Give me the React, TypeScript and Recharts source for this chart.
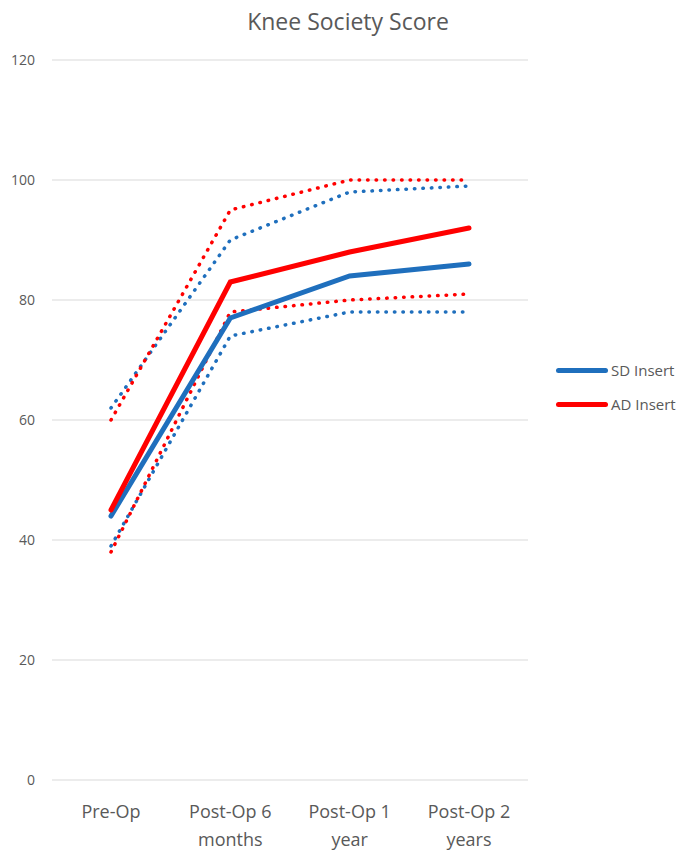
import React from 'react';
import { ComposedChart, Line, XAxis, YAxis, CartesianGrid, Legend } from 'recharts';

const categories = ['Pre-Op', 'Post-Op 6 months', 'Post-Op 1 year', 'Post-Op 2 years'];
const sdMean = [44, 77, 84, 86];
const adMean = [45, 83, 88, 92];
const sdUpper = [62, 90, 98, 99];
const sdLower = [39, 74, 78, 78];
const adUpper = [60, 95, 100, 100];
const adLower = [38, 78, 80, 81];
const yTicks = [0, 20, 40, 60, 80, 100, 120];

const BLUE = '#1f6fbd';
const RED = '#ff0000';
const GREY = '#595959';
const FONT = '"Open Sans", sans-serif';

const data = categories.map((name, i) => ({
  name,
  sd: sdMean[i],
  ad: adMean[i],
  sdHi: sdUpper[i],
  sdLo: sdLower[i],
  adHi: adUpper[i],
  adLo: adLower[i],
}));

// split long category names over two lines like the original
const CategoryTick = (props: any) => {
  const { x, y, payload } = props;
  const words = String(payload.value).split(' ');
  const lines = words.length > 2 ? [words.slice(0, 2).join(' '), words.slice(2).join(' ')] : [words.join(' ')];
  return (
    <text x={x} y={y} textAnchor="middle" fill={GREY} fontSize={18} fontFamily={FONT}>
      {lines.map((l, i) => (
        <tspan key={i} x={x} dy={i === 0 ? 30 : 28}>{l}</tspan>
      ))}
    </text>
  );
};

const legendItems = [
  { label: 'SD Insert', color: BLUE },
  { label: 'AD Insert', color: RED },
];

const LegendBox = () => (
  <div style={{ fontFamily: FONT, fontSize: 15, color: GREY }}>
    {legendItems.map((it) => (
      <div key={it.label} style={{ display: 'flex', alignItems: 'center', height: 34 }}>
        <div style={{ width: 52, height: 5, borderRadius: 3, background: it.color, marginRight: 3 }} />
        <span>{it.label}</span>
      </div>
    ))}
  </div>
);

const dotted = { strokeWidth: 3.5, strokeDasharray: '0.5 8', strokeLinecap: 'round' as const };

export default function App() {
  return (
    <div style={{ position: 'absolute', left: 0, top: 0, width: 684, height: 857, background: '#fff' }}>
      <div
        style={{
          position: 'absolute',
          top: 5,
          left: 0,
          width: 696,
          textAlign: 'center',
          fontFamily: FONT,
          fontSize: 23,
          color: GREY,
        }}
      >
        Knee Society Score
      </div>
      <ComposedChart width={684} height={857} data={data} margin={{ top: 60, right: 156, bottom: 17, left: 0 }}>
        <CartesianGrid vertical={false} stroke="#d9d9d9" />
        <XAxis
          dataKey="name"
          axisLine={false}
          tickLine={false}
          height={60}
          interval={0}
          padding={{ left: 59, right: 59 }}
          tick={<CategoryTick />}
        />
        <YAxis
          domain={[0, 120]}
          ticks={yTicks}
          axisLine={false}
          tickLine={false}
          width={52}
          tickMargin={11}
          tick={{ fontSize: 14, fill: GREY, fontFamily: FONT }}
        />
        <Legend
          layout="vertical"
          align="center"
          verticalAlign="middle"
          content={<LegendBox />}
          wrapperStyle={{ left: 556, top: 353, width: 128 }}
        />
        <Line dataKey="sdHi" stroke={BLUE} {...dotted} dot={false} isAnimationActive={false} legendType="none" />
        <Line dataKey="sdLo" stroke={BLUE} {...dotted} dot={false} isAnimationActive={false} legendType="none" />
        <Line dataKey="adHi" stroke={RED} {...dotted} dot={false} isAnimationActive={false} legendType="none" />
        <Line dataKey="adLo" stroke={RED} {...dotted} dot={false} isAnimationActive={false} legendType="none" />
        <Line dataKey="sd" stroke={BLUE} strokeWidth={5} strokeLinecap="round" dot={false} isAnimationActive={false} />
        <Line dataKey="ad" stroke={RED} strokeWidth={5} strokeLinecap="round" dot={false} isAnimationActive={false} />
      </ComposedChart>
    </div>
  );
}
